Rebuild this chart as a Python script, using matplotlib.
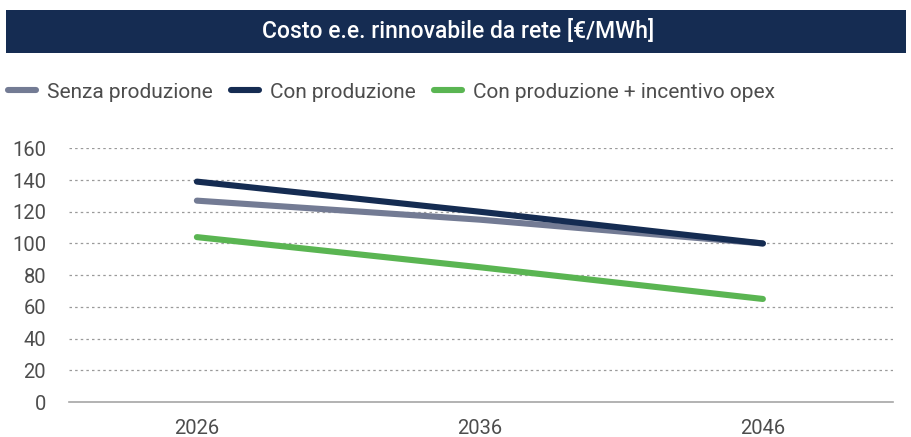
import matplotlib
matplotlib.use("Agg")
import matplotlib.pyplot as plt
from matplotlib.patches import Rectangle

# anni e costi [€/MWh]
anni = ["2026", "2036", "2046"]
senza_produzione = [127, 115, 100]
con_produzione = [139, 120, 100]
con_incentivo = [104, 85, 65]

serie = ["Senza produzione", "Con produzione", "Con produzione + incentivo opex"]
colori = ["#737b94", "#152c52", "#5ab552"]
y_ticks = [0, 20, 40, 60, 80, 100, 120, 140, 160]

plt.rcParams["font.family"] = ["Roboto", "DejaVu Sans"]

fig = plt.figure(figsize=(9.11, 4.37), dpi=100)
ax = fig.add_axes([0.0757, 0.080, 0.9043, 0.5806])

# banner del titolo
fig.patches.append(Rectangle((6 / 911, 1 - 53 / 437), 900 / 911, 43 / 437,
                             transform=fig.transFigure, facecolor="#152c52",
                             edgecolor="none", zorder=0))
fig.text(458 / 911, 1 - 31 / 437, "Costo e.e. rinnovabile da rete [€/MWh]",
         color="white", fontsize=16.5, fontweight="medium",
         ha="center", va="center")

x = range(len(anni))
for valori, nome, colore in zip([senza_produzione, con_produzione, con_incentivo],
                                serie, colori):
    ax.plot(x, valori, color=colore, linewidth=4.4, solid_capstyle="round",
            label=nome)

ax.set_xlim(-0.452, 2.459)
ax.set_ylim(0, 160)
ax.set_yticks(y_ticks)
ax.set_xticks(list(x))
ax.set_xticklabels(anni)
ax.tick_params(axis="both", length=0, labelsize=14.5, colors="#4d4d4d")
ax.tick_params(axis="y", pad=16.5)
ax.tick_params(axis="x", pad=12)

for lato in ["top", "right", "left"]:
    ax.spines[lato].set_visible(False)
ax.spines["bottom"].set_color("#a6a6a6")
ax.spines["bottom"].set_linewidth(1.2)

ax.yaxis.grid(True, color="#9a9a9a", linestyle=(0, (2, 2.5)), linewidth=0.9)
ax.set_axisbelow(True)
ax.get_ygridlines()[0].set_visible(False)

leg = ax.legend(loc="center left", bbox_to_anchor=(8 / 911, 1 - 92 / 437),
                bbox_transform=fig.transFigure, ncol=3, frameon=False,
                fontsize=15, handlelength=1.35, handletextpad=0.53,
                columnspacing=0.87, borderpad=0, borderaxespad=0)
for testo in leg.get_texts():
    testo.set_color("#4d4d4d")
for linea in leg.get_lines():
    linea.set_linewidth(4.4)
    linea.set_solid_capstyle("round")

fig.savefig("out.png", dpi=100)
